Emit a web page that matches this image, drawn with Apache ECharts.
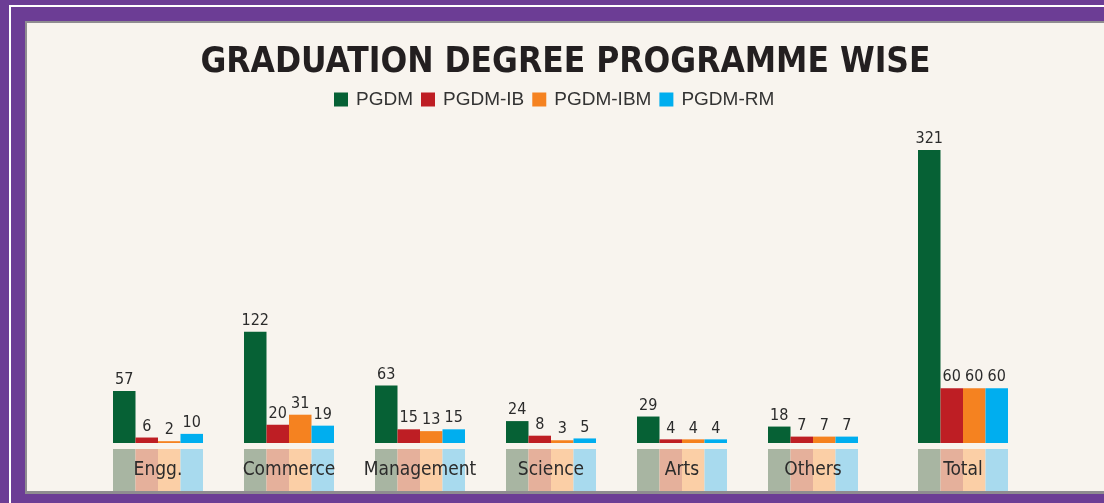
<!DOCTYPE html>
<html>
<head>
<meta charset="utf-8">
<script src="https://cdn.jsdelivr.net/npm/echarts@6/dist/echarts.min.js"></script>
<style>
  html, body { margin: 0; padding: 0; }
  body { width: 1104px; height: 503px; background: #6c3d95; position: relative; overflow: hidden; }
  .outline { position: absolute; left: 9px; top: 5px; width: 1200px; height: 600px;
             border-top: 2px solid #fff; border-left: 2px solid #fff; }
  .panel { position: absolute; left: 25px; top: 21px; width: 1077px; height: 468px;
           background: #f8f4ee; border: 2px solid #8f8c90; border-right-width: 1px; border-bottom-width: 3px; }
  #chart { position: absolute; left: 27px; top: 23px; width: 1077px; height: 468px; }
</style>
</head>
<body>
<div class="outline"></div>
<div class="panel"></div>
<div id="chart"></div>
<script>
// data
var categories = ["Engg.", "Commerce", "Management", "Science", "Arts", "Others", "Total"];
var seriesNames = ["PGDM", "PGDM-IB", "PGDM-IBM", "PGDM-RM"];
var pgdm = [57, 122, 63, 24, 29, 18, 321];
var pgdmIB = [6, 20, 15, 8, 4, 7, 60];
var pgdmIBM = [2, 31, 13, 3, 4, 7, 60];
var pgdmRM = [10, 19, 15, 5, 4, 7, 60];

var values = [pgdm, pgdmIB, pgdmIBM, pgdmRM];
var colors = ["#066135", "#be1e24", "#f58220", "#00aeef"];
var fadedColors = ["#a8b5a2", "#e5b09b", "#fbcfa6", "#a8daee"];

var narrow = "'Liberation Sans Narrow', 'DejaVu Sans Condensed', sans-serif";
var nCat = 6; // last category (Total) sits in its own grid, set a bit apart

var chart = echarts.init(document.getElementById("chart"));

var series = [];
// main bars
values.forEach(function (vals, i) {
  [0, 1].forEach(function (g) {
    series.push({
      type: "bar",
      name: seriesNames[i],
      xAxisIndex: g,
      yAxisIndex: g,
      data: g === 0 ? vals.slice(0, nCat) : vals.slice(nCat),
      barWidth: 22.5,
      barGap: "0%",
      itemStyle: { color: colors[i] },
      label: {
        show: true,
        position: "top",
        distance: 3,
        fontFamily: narrow,
        fontSize: 16,
        color: "#2b2b2b"
      }
    });
  });
});
// faded blocks under each bar
fadedColors.forEach(function (c, i) {
  [2, 3].forEach(function (g) {
    var cats = g === 2 ? categories.slice(0, nCat) : categories.slice(nCat);
    series.push({
      type: "bar",
      name: "base" + i,
      xAxisIndex: g,
      yAxisIndex: g,
      data: cats.map(function () { return 1; }),
      barWidth: 22.5,
      barGap: "0%",
      silent: true,
      z: 1,
      itemStyle: { color: c }
    });
  });
});

function xAxisFor(grid, cats, showLabel) {
  return {
    type: "category",
    gridIndex: grid,
    data: cats,
    z: 10,
    axisLine: { show: false },
    axisTick: { show: false },
    axisLabel: {
      show: showLabel,
      interval: 0,
      margin: 18,
      fontFamily: narrow,
      fontSize: 19,
      color: "#2b2b2b"
    }
  };
}
function yAxisFor(grid, max) {
  return { type: "value", gridIndex: grid, min: 0, max: max, show: false, splitLine: { show: false } };
}

chart.setOption({
  animation: false,
  title: {
    text: "GRADUATION DEGREE PROGRAMME WISE",
    left: "center",
    top: 17,
    textStyle: {
      fontFamily: "'DejaVu Sans Condensed', sans-serif",
      fontWeight: "bold",
      fontSize: 35,
      color: "#231f20"
    }
  },
  legend: {
    data: seriesNames,
    left: 302,
    top: 62,
    icon: "rect",
    itemWidth: 14,
    itemHeight: 14,
    itemGap: 8,
    textStyle: {
      fontFamily: "'Liberation Sans', Arial, sans-serif",
      fontSize: 19,
      color: "#333",
      padding: [0, 0, 0, 3]
    }
  },
  grid: [
    { left: 65.5, width: 786, top: 127, height: 293 },
    { left: 871, width: 130, top: 127, height: 293 },
    { left: 65.5, width: 786, top: 426, height: 42 },
    { left: 871, width: 130, top: 426, height: 42 }
  ],
  xAxis: [
    xAxisFor(0, categories.slice(0, nCat), true),
    xAxisFor(1, categories.slice(nCat), true),
    xAxisFor(2, categories.slice(0, nCat), false),
    xAxisFor(3, categories.slice(nCat), false)
  ],
  yAxis: [
    yAxisFor(0, 321),
    yAxisFor(1, 321),
    yAxisFor(2, 1),
    yAxisFor(3, 1)
  ],
  series: series
});
</script>
</body>
</html>
